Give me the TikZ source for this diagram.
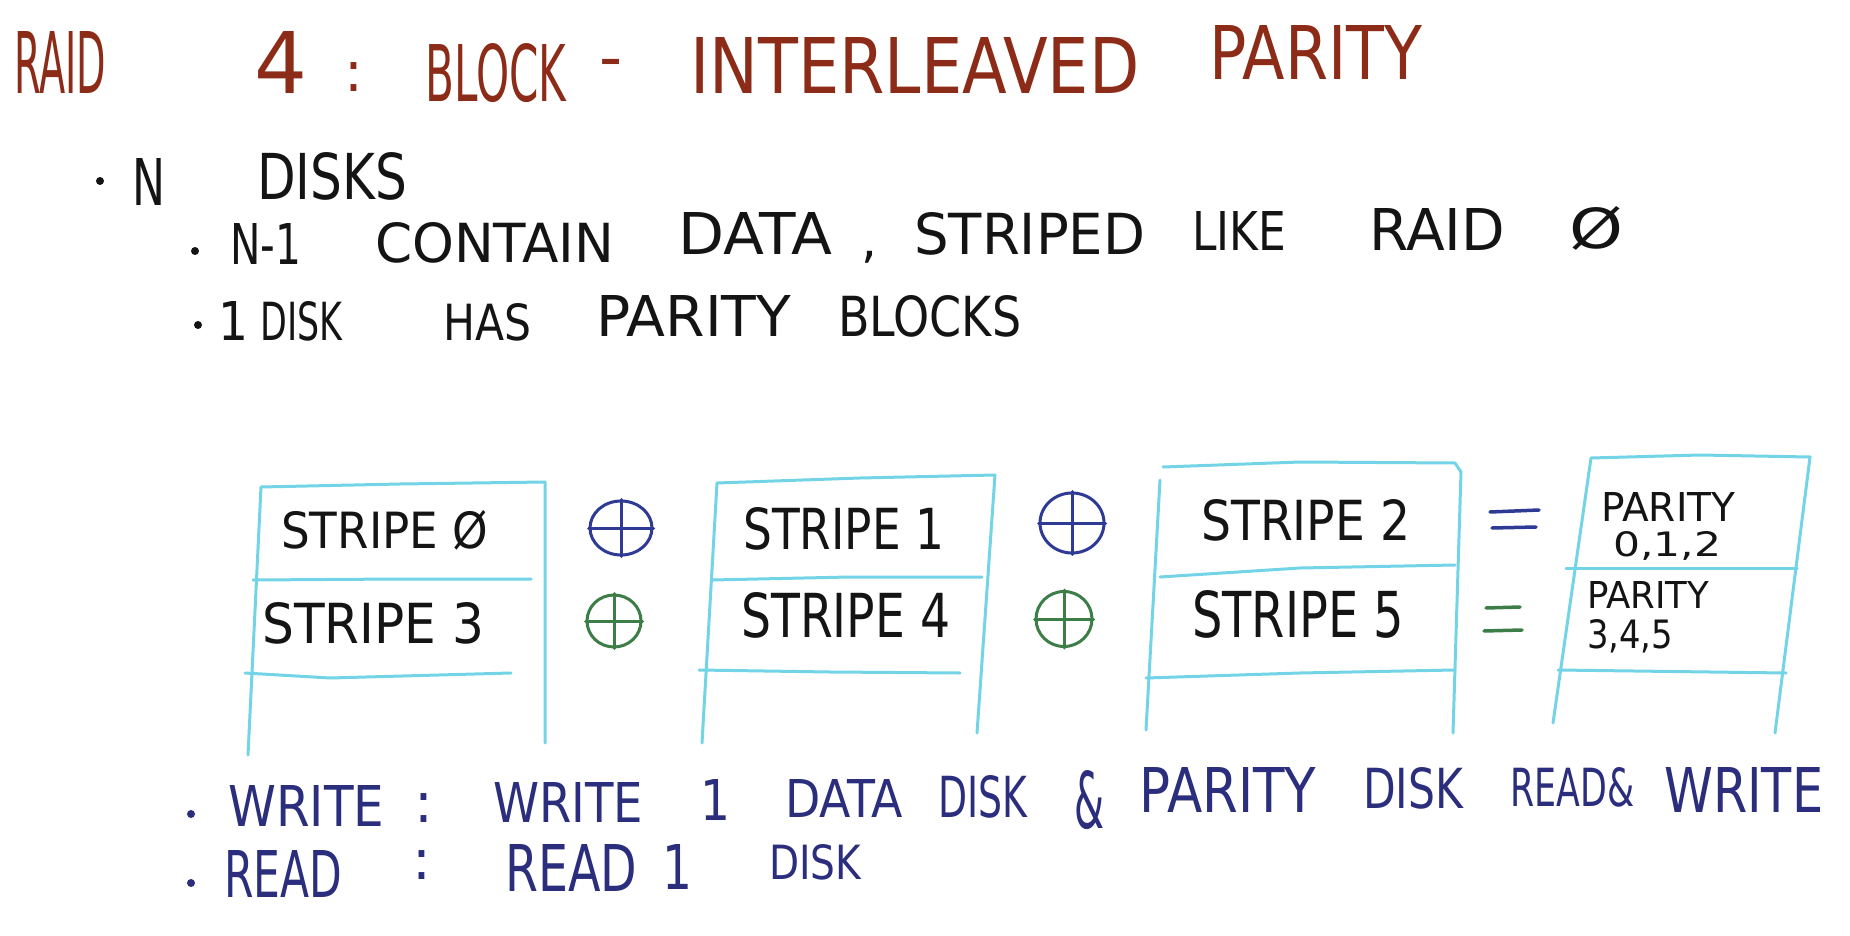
\documentclass[tikz,border=0pt]{standalone}
\usepackage{fontspec}
\setmainfont{DejaVu Sans}
\usepackage{graphicx}
\usetikzlibrary{shapes.geometric}
\definecolor{titlered}{HTML}{8C2B17}
\definecolor{ink}{HTML}{141414}
\definecolor{navy}{HTML}{2A2E7C}
\definecolor{xblue}{HTML}{2E3A94}
\definecolor{xgreen}{HTML}{3D7E48}
\definecolor{diskcyan}{HTML}{72D4E6}
\newcommand{\hw}[6]{\node[hand] (#1) at (#2,#3) {\resizebox{#4pt}{#5pt}{#6}};}
\begin{document}
\begin{tikzpicture}[x=1pt,y=-1pt,
  hand/.style={inner sep=0pt, anchor=base west, font=\fontsize{40}{48}\selectfont},
  punct/.style={inner sep=0pt, anchor=base, font=\fontsize{56}{60}\selectfont},
  dot/.style={circle, fill, inner sep=0pt, minimum size=8pt},
  diskline/.style={draw=diskcyan, line width=3pt, line cap=round, line join=round},
  xorring/.style={ellipse, draw, line width=3pt, inner sep=0pt},
  xorbar/.style={line width=3pt, line cap=round},
  eqbar/.style={line width=3.5pt, line cap=round}]
\useasboundingbox[fill=white] (0,0) rectangle (1850,936);

% ---------- title ----------
\begin{scope}[titlered]
\hw{t1}{14}{94}{92}{62}{RAID}
\hw{t2}{254}{94}{53}{62}{4}
\node[punct, text=titlered] (t3) at (354,92) {:};
\node[punct, text=titlered, font=\fontsize{64}{64}\selectfont] (t5) at (611,80) {-};
\hw{t4}{425}{102}{141}{58}{BLOCK}
\hw{t6}{690}{94}{449}{56}{INTERLEAVED}
\hw{t7}{1209}{80}{213}{54}{PARITY}
\end{scope}

% ---------- bullet list ----------
\begin{scope}[ink]
\node[dot, fill=ink] (b1) at (100,181) {};
\hw{l1a}{132}{206}{33}{47}{N}
\hw{l1b}{257}{200}{150}{47}{DISKS}

\node[dot, fill=ink] (b2) at (195,251) {};
\hw{l2a}{230}{265}{71}{41}{N-1}
\hw{l2b}{375}{262}{239}{40}{CONTAIN}
\hw{l2c}{678}{254}{154}{42}{DATA}
\node[punct, text=ink, font=\fontsize{50}{50}\selectfont] (l2d) at (869,258) {,};
\hw{l2e}{914}{254}{231}{42}{STRIPED}
\hw{l2f}{1192}{251}{94}{39}{LIKE}
\hw{l2g}{1369}{251}{136}{42}{RAID}
\hw{l2h}{1569}{248}{54}{42}{Ø}

\node[dot, fill=ink] (b3) at (198,325) {};
\hw{l3a}{218}{340}{30}{39}{1}
\hw{l3b}{260}{340}{82}{39}{DISK}
\hw{l3c}{443}{340}{88}{37}{HAS}
\hw{l3d}{596}{336}{195}{41}{PARITY}
\hw{l3e}{838}{336}{183}{41}{BLOCKS}
\end{scope}

% ---------- disks ----------
% disk 1
\draw[diskline] (248,755) -- (261,487) -- (400,484) -- (545,482) -- (545,743);
\draw[diskline] (253,580) -- (400,579) -- (531,579);
\draw[diskline] (245,673) -- (330,678) -- (511,673);
% disk 2
\draw[diskline] (702,743) -- (717,483) -- (860,478) -- (995,475) -- (977,733);
\draw[diskline] (712,580) -- (850,577) -- (982,577);
\draw[diskline] (699,670) -- (830,672) -- (960,673);
% disk 3
\draw[diskline] (1163,467) -- (1300,462) -- (1455,463) -- (1461,472) -- (1453,733);
\draw[diskline] (1160,480) -- (1146,730);
\draw[diskline] (1160,577) -- (1300,568) -- (1455,565);
\draw[diskline] (1146,678) -- (1300,673) -- (1455,670);
% disk 4
\draw[diskline] (1553,723) -- (1591,458) -- (1700,455) -- (1810,457) -- (1775,733);
\draw[diskline] (1566,568) -- (1797,568);
\draw[diskline] (1558,670) -- (1786,673);

% ---------- stripe labels ----------
\begin{scope}[ink]
\hw{s0}{281}{548}{207}{38}{STRIPE Ø}
\hw{s3}{262}{643}{222}{41}{STRIPE 3}
\hw{s1}{743}{549}{201}{42}{STRIPE 1}
\hw{s4}{741}{637}{209}{45}{STRIPE 4}
\hw{s2}{1201}{540}{209}{41}{STRIPE 2}
\hw{s5}{1192}{637}{212}{47}{STRIPE 5}
\hw{p1}{1601}{521}{134}{29}{PARITY}
\hw{p1n}{1613}{556}{108}{25}{0,1,2}
\hw{p2}{1587}{608}{122}{27}{PARITY}
\hw{p2n}{1587}{648}{86}{29}{3,4,5}
\end{scope}

% ---------- XOR symbols ----------
\node[xorring, draw=xblue, minimum width=62pt, minimum height=54pt] (o1) at (621,528) {};
\draw[xorbar, xblue] (o1.north) -- (o1.south) (o1.west) -- (o1.east);
\node[xorring, draw=xgreen, minimum width=54pt, minimum height=52pt] (o2) at (614,621) {};
\draw[xorbar, xgreen] (o2.north) -- (o2.south) (o2.west) -- (o2.east);
\node[xorring, draw=xblue, minimum width=64pt, minimum height=60pt] (o3) at (1072,523) {};
\draw[xorbar, xblue] (o3.north) -- (o3.south) (o3.west) -- (o3.east);
\node[xorring, draw=xgreen, minimum width=56pt, minimum height=55pt] (o4) at (1064,619) {};
\draw[xorbar, xgreen] (o4.north) -- (o4.south) (o4.west) -- (o4.east);

% ---------- equals signs ----------
\draw[eqbar, xblue] (1490,512) -- (1539,510);
\draw[eqbar, xblue] (1492,528) -- (1536,527);
\draw[eqbar, xgreen] (1486,608) -- (1520,607);
\draw[eqbar, xgreen] (1484,631) -- (1522,630);

% ---------- write / read ----------
\begin{scope}[navy]
\node[dot, fill=navy] (b4) at (191,814) {};
\hw{w1}{228}{826}{156}{41}{WRITE}
\node[punct, text=navy] (w2) at (424,822) {:};
\hw{w3}{493}{822}{150}{40}{WRITE}
\hw{w4}{700}{820}{30}{41}{1}
\hw{w5}{785}{817}{118}{38}{DATA}
\hw{w6}{938}{817}{89}{42}{DISK}
\hw{w7}{1074}{828}{30}{58}{\&}
\hw{w8}{1139}{812}{177}{45}{PARITY}
\hw{w9}{1363}{808}{100}{41}{DISK}
\hw{w10}{1510}{806}{124}{39}{READ\&}
\hw{w11}{1664}{812}{159}{45}{WRITE}

\node[dot, fill=navy] (b5) at (191,883) {};
\hw{r1}{224}{897}{118}{47}{READ}
\node[punct, text=navy] (r2) at (422,879) {:};
\hw{r3}{505}{891}{132}{47}{READ}
\hw{r4}{662}{889}{30}{45}{1}
\hw{r5}{769}{879}{92}{35}{DISK}
\end{scope}
\end{tikzpicture}
\end{document}
